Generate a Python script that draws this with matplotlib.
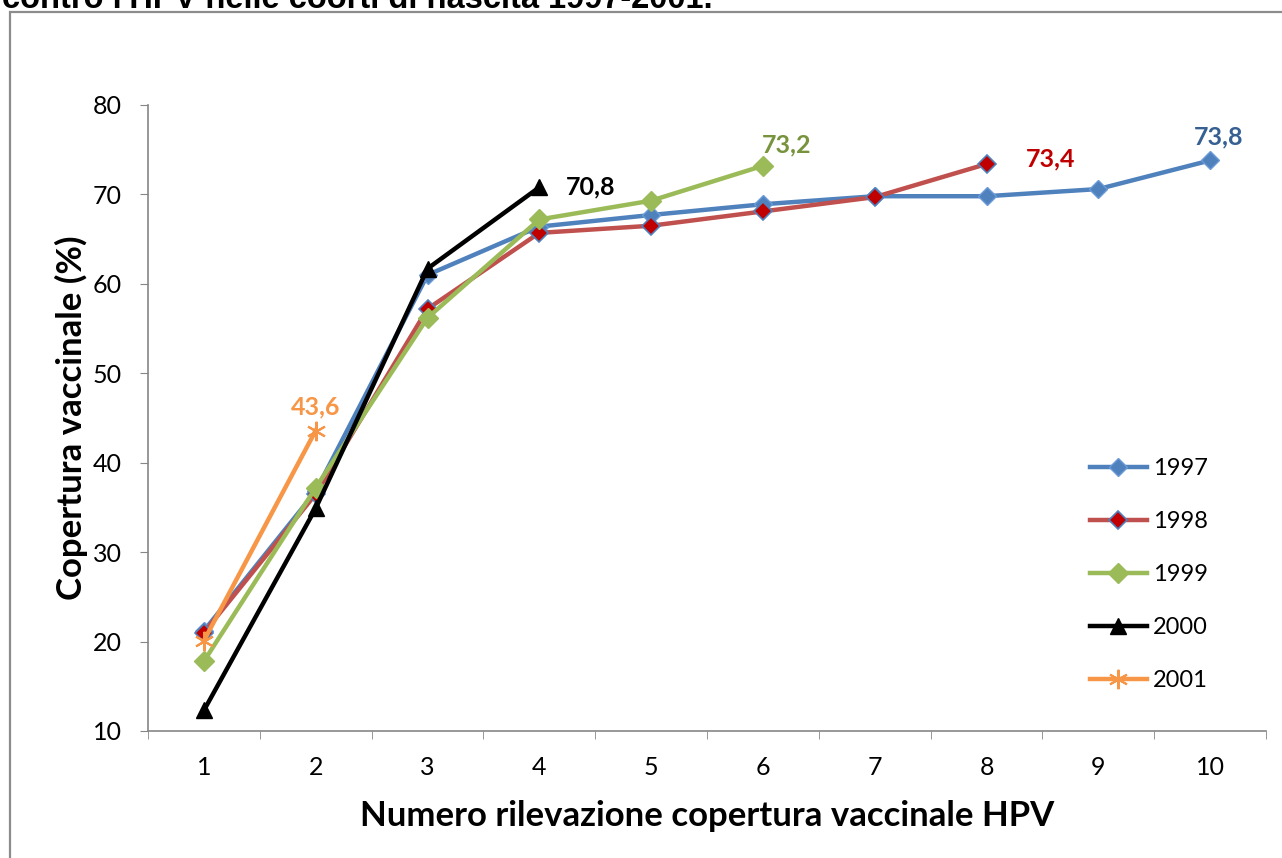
import numpy as np
import matplotlib
matplotlib.use('Agg')
import matplotlib.pyplot as plt
from matplotlib.patches import Rectangle

# dati
rilevazioni = list(range(1, 11))
coorte_1997 = [21.2, 36.8, 61.0, 66.4, 67.7, 68.9, 69.8, 69.8, 70.6, 73.8]
coorte_1998 = [21.0, 36.5, 57.2, 65.7, 66.5, 68.1, 69.7, 73.4]
coorte_1999 = [17.8, 37.2, 56.2, 67.2, 69.3, 73.2]
coorte_2000 = [12.3, 34.9, 61.7, 70.8]
coorte_2001 = [20.1, 43.6]
etichette = ["1997", "1998", "1999", "2000", "2001"]

titolo = "contro l'HPV nelle coorti di nascita 1997-2001."

plt.rcParams["font.family"] = ["Lato", "DejaVu Sans"]

fig = plt.figure(figsize=(12.82, 8.58), dpi=100)
ax = fig.add_axes([148 / 1282, 1 - 731 / 858, (1266 - 148) / 1282, (731 - 105) / 858])

# titolo tagliato in alto e cornice
fig.text(2 / 1282, 1 - 8 / 858, titolo, fontsize=23.5, fontweight="bold",
         family="Liberation Sans", va="baseline", ha="left")
fig.patches.append(Rectangle((10 / 1282, -0.05), 1.2, 1 - 12 / 858 + 0.05,
                             transform=fig.transFigure, fill=False,
                             edgecolor="#8c8c8c", linewidth=1.6))

blu, rosso, verde, arancio = "#4F81BD", "#C0504D", "#9BBB59", "#F79646"

ax.plot(rilevazioni[:len(coorte_1997)], coorte_1997, color=blu, lw=3.2,
        marker="D", ms=9, mfc=blu, mec="#6a9bd8", mew=1, label=etichette[0])
ax.plot(rilevazioni[:len(coorte_1998)], coorte_1998, color=rosso, lw=3.2,
        marker="D", ms=9, mfc="#C00000", mec=blu, mew=1.2, label=etichette[1])
ax.plot(rilevazioni[:len(coorte_1999)], coorte_1999, color=verde, lw=3.2,
        marker="D", ms=10, mfc=verde, mec=verde, label=etichette[2])
ax.plot(rilevazioni[:len(coorte_2000)], coorte_2000, color="black", lw=3.2,
        marker="^", ms=11, mfc="black", mec="black", label=etichette[3])
ax.plot(rilevazioni[:len(coorte_2001)], coorte_2001, color=arancio, lw=3.2,
        marker=(6, 2, 0), ms=14, mec=arancio, mew=1.5, label=etichette[4])

# etichette dei valori finali
stile = dict(fontsize=18, fontweight="bold", textcoords="offset points")
ax.annotate("43,6", (2, coorte_2001[-1]), xytext=(0, 17), color=arancio,
            ha="center", va="center", **stile)
ax.annotate("70,8", (4, coorte_2000[-1]), xytext=(37, 0), color="black",
            ha="center", va="center", **stile)
ax.annotate("73,2", (6, coorte_1999[-1]), xytext=(17, 15), color="#77933C",
            ha="center", va="center", **stile)
ax.annotate("73,4", (8, coorte_1998[-1]), xytext=(46, 4), color="#C00000",
            ha="center", va="center", **stile)
ax.annotate("73,8", (10, coorte_1997[-1]), xytext=(6, 17), color="#376092",
            ha="center", va="center", **stile)

ax.set_xlim(0.5, 10.5)
ax.set_ylim(10, 80)
ax.set_xticks(rilevazioni)
ax.set_xticks(np.arange(0.5, 11, 1), minor=True)
ax.set_yticks(range(10, 81, 10))
ax.tick_params(axis="x", which="major", length=0, labelsize=18, pad=18)
ax.tick_params(axis="x", which="minor", length=6, color="#868686", direction="out")
ax.tick_params(axis="y", length=6, color="#868686", labelsize=18, pad=13)
for s in ["top", "right"]:
    ax.spines[s].set_visible(False)
for s in ["left", "bottom"]:
    ax.spines[s].set_color("#868686")
    ax.spines[s].set_linewidth(1.2)

ax.set_xlabel("Numero rilevazione copertura vaccinale HPV", fontsize=25,
              fontweight="bold", labelpad=15)
ax.set_ylabel("Copertura vaccinale (%)", fontsize=25, fontweight="bold", labelpad=3)

ax.legend(loc="upper left", bbox_to_anchor=((1090 - 148) / 1118, (731 - 458) / 626),
          frameon=False, fontsize=17, handlelength=2.4, labelspacing=1.36,
          handletextpad=0.25, borderaxespad=0, borderpad=0)

fig.savefig("out.png", dpi=100)
